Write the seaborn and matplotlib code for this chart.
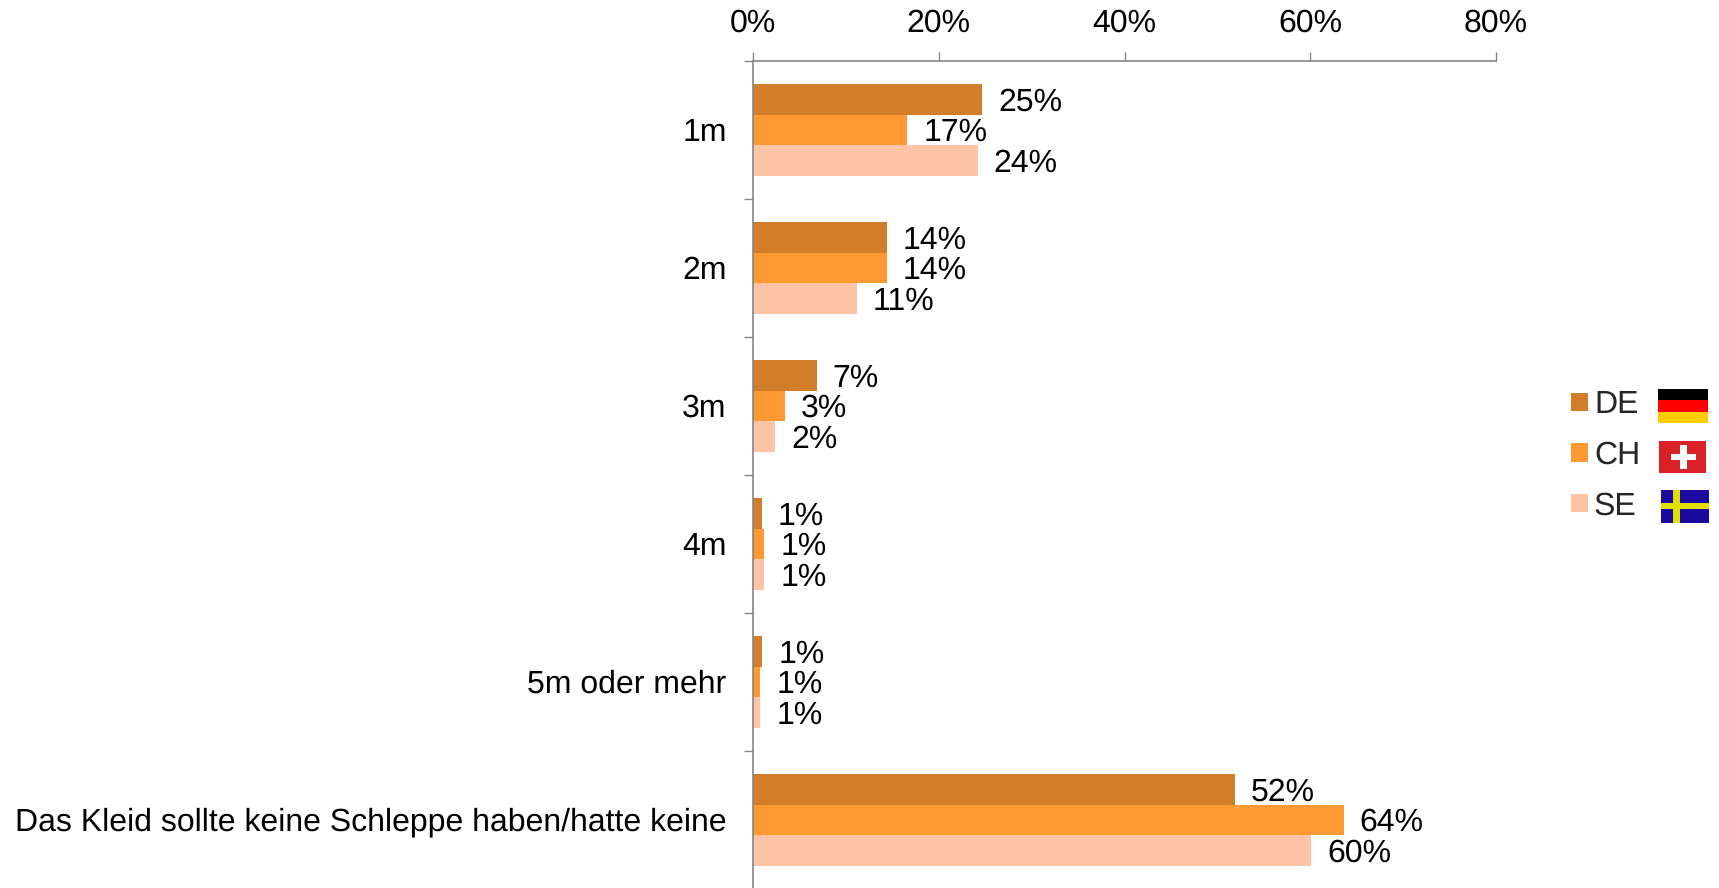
import numpy as np
import pandas as pd
import matplotlib.pyplot as plt
from matplotlib.patches import Rectangle
from matplotlib.transforms import ScaledTranslation
import seaborn as sns

categories = ['1m', '2m', '3m', '4m', '5m oder mehr', 'Das Kleid sollte keine Schleppe haben/hatte keine']
countries = ['DE', 'CH', 'SE']
de_values = [24.7, 14.4, 6.85, 0.95, 1.0, 51.9]
ch_values = [16.6, 14.4, 3.4, 1.2, 0.8, 63.6]
se_values = [24.2, 11.2, 2.4, 1.2, 0.8, 60.1]
de_labels = ['25%', '14%', '7%', '1%', '1%', '52%']
ch_labels = ['17%', '14%', '3%', '1%', '1%', '64%']
se_labels = ['24%', '11%', '2%', '1%', '1%', '60%']
x_ticks = [0, 20, 40, 60, 80]
colors = ['#D27D2A', '#FF9933', '#FFC3A5']

W, H = 1719, 888
GRAY = '#868686'

sns.set_theme(style='white')
plt.rcParams['font.family'] = ['Liberation Sans', 'DejaVu Sans']
plt.rcParams['text.hinting'] = 'no_hinting'

df = pd.DataFrame({
    'category': categories * 3,
    'country': np.repeat(countries, len(categories)),
    'value': de_values + ch_values + se_values,
})

fig = plt.figure(figsize=(W / 100, H / 100), dpi=100)
ax = fig.add_axes([753 / W, (H - 889) / H, (1496 - 753) / W, (889 - 61) / H])

sns.barplot(data=df, y='category', x='value', hue='country', order=categories, hue_order=countries,
            palette=colors, width=0.667, gap=0, saturation=1, errorbar=None, linewidth=0, ax=ax)

for container, labels in zip(ax.containers, [de_labels, ch_labels, se_labels]):
    for t in ax.bar_label(container, labels=labels, padding=11, fontsize=23, color='black'):
        t.xyann = (11.5, -2)

ax.set_xlim(0, 80)
ax.set_ylim(len(categories) - 0.5, -0.5)
ax.set_xlabel('')
ax.set_ylabel('')

# axis on top, ticks between the categories
sns.despine(ax=ax, top=False, right=True, bottom=True, left=False)
for side in ['top', 'left']:
    ax.spines[side].set_color(GRAY)
    ax.spines[side].set_linewidth(1.2)
ax.xaxis.tick_top()
ax.set_xticks(x_ticks)
ax.set_xticklabels([f'{t}%' for t in x_ticks], fontsize=23, color='black')
ax.tick_params(axis='x', length=6.5, width=1, color=GRAY, pad=9.5, bottom=False, top=True)
ax.set_yticks(np.arange(len(categories) + 1) - 0.5, minor=True)
ax.tick_params(axis='y', which='minor', length=6.5, width=1, color=GRAY, left=True)
ax.tick_params(axis='y', which='major', length=0, pad=19, labelsize=23, labelcolor='black')
for label in ax.get_yticklabels():
    label.set_transform(label.get_transform() + ScaledTranslation(0, 1 / 100, fig.dpi_scale_trans))

sns.move_legend(ax, 'upper left', bbox_to_anchor=(1571 / W, (H - 390) / H), bbox_transform=fig.transFigure,
                title=None, frameon=False, fontsize=23, handlelength=0.52, handleheight=0.52,
                labelspacing=0.65, handletextpad=0.2, borderpad=0, borderaxespad=0)


def rect(x0, y0, x1, y1, color):
    fig.add_artist(Rectangle((x0 / W, (H - y1) / H), (x1 - x0) / W, (y1 - y0) / H,
                             transform=fig.transFigure, facecolor=color, edgecolor='none'))


# flags next to the legend
rect(1658, 389, 1708, 400, '#000000')
rect(1658, 400, 1708, 412, '#FF0000')
rect(1658, 412, 1708, 423, '#FFCC00')

rect(1659, 441, 1706, 473, '#DA2128')
rect(1671, 454, 1696, 460, 'white')
rect(1680, 445, 1687, 469, 'white')

rect(1661, 490, 1709, 523, '#1A0AA0')
rect(1661, 503, 1709, 509, '#E0E000')
rect(1673, 490, 1680, 523, '#E0E000')

fig.savefig('out.png', dpi=100)
